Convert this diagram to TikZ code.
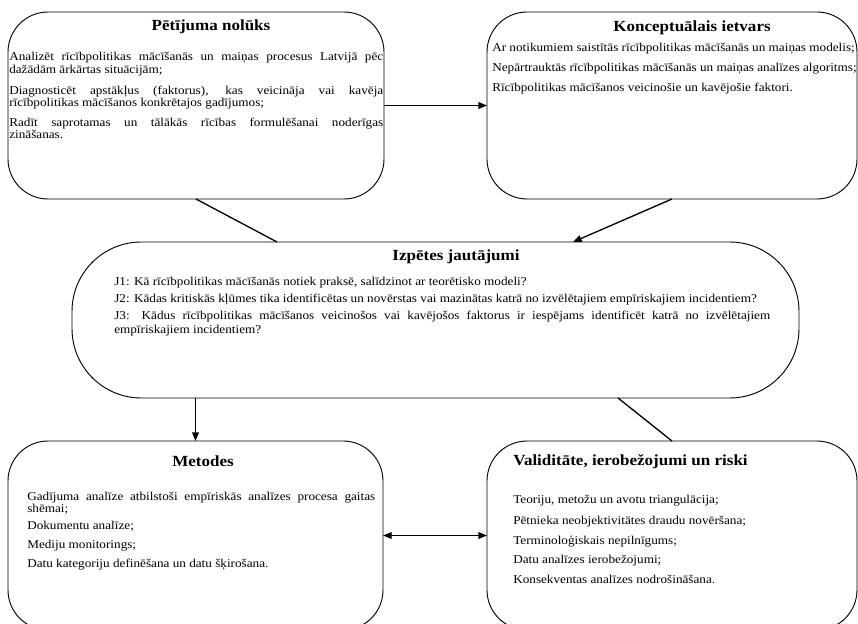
\documentclass[tikz,border=0pt]{standalone}
\usepackage{fontspec}
\setmainfont{Liberation Serif}[FakeStretch=1.1]
\usetikzlibrary{arrows.meta,calc}
\newcommand{\bodyfont}{\fontsize{9}{10}\selectfont}
\newcommand{\titlefont}{\fontsize{11.6}{13}\selectfont\bfseries}
\tikzset{
  box/.style={draw=black, line width=0.7pt, rounded corners=30pt, inner sep=0pt, outer sep=0pt},
  txt/.style={anchor=mid west, inner sep=0pt, font=\bodyfont},
  ttl/.style={anchor=mid, inner sep=0pt, font=\titlefont},
  ttlw/.style={anchor=mid west, inner sep=0pt, font=\titlefont},
  conn/.style={line width=1pt},
  arr/.style={conn, -{Triangle[length=6.5pt,width=5pt]}},
  darr/.style={conn, {Triangle[length=6.5pt,width=5pt]}-{Triangle[length=6.5pt,width=5pt]}}
}
\begin{document}
\begin{tikzpicture}[x=0.75pt,y=-0.75pt]
\useasboundingbox (0,0) rectangle (858,624);
\fill[white] (0,0) rectangle (858,624);

% boxes
\node[box, minimum width=282pt, minimum height=140.25pt] (B1) at (196,105.5) {};
\node[box, minimum width=277.5pt, minimum height=140.25pt] (B2) at (672,105.5) {};
\node[box, rounded corners=52pt, minimum width=545.25pt, minimum height=117pt] (B3) at (435.5,320) {};
\node[box, minimum width=281.25pt, minimum height=141.75pt] (B4) at (195.5,535.5) {};
\node[box, minimum width=277.5pt, minimum height=141.75pt] (B5) at (672,535.5) {};

% box 1
\node[ttl] (T1) at (211,27) {Pētījuma nolūks};
\node[txt] (t1a) at (9,57) {\makebox[280.5pt][s]{Analizēt rīcībpolitikas mācīšanās un maiņas procesus Latvijā pēc}};
\node[txt] (t1b) at (9,70) {dažādām ārkārtas situācijām;};
\node[txt] (t1c) at (9,91) {\makebox[280.5pt][s]{Diagnosticēt apstākļus (faktorus), kas veicināja vai kavēja}};
\node[txt] (t1d) at (9,103) {rīcībpolitikas mācīšanos konkrētajos gadījumos;};
\node[txt] (t1e) at (9,123) {\makebox[280.5pt][s]{Radīt saprotamas un tālākās rīcības formulēšanai noderīgas}};
\node[txt] (t1f) at (9,135) {zināšanas.};

% box 2
\node[ttl] (T2) at (692,28) {Konceptuālais ietvars};
\node[txt] (t2a) at (492,48) {Ar notikumiem saistītās rīcībpolitikas mācīšanās un maiņas modelis;};
\node[txt] (t2b) at (492,68) {Nepārtrauktās rīcībpolitikas mācīšanās un maiņas analīzes algoritms;};
\node[txt] (t2c) at (492,88) {Rīcībpolitikas mācīšanos veicinošie un kavējošie faktori.};

% box 3
\node[ttl] (T3) at (456,257) {Izpētes jautājumi};
\node[txt] (t3a) at (114,282) {J1: Kā rīcībpolitikas mācīšanās notiek praksē, salīdzinot ar teorētisko modeli?};
\node[txt] (t3b) at (114,299) {J2: Kādas kritiskās kļūmes tika identificētas un novērstas vai mazinātas katrā no izvēlētajiem empīriskajiem incidentiem?};
\node[txt] (t3c) at (114,316) {\makebox[492pt][s]{J3: Kādus rīcībpolitikas mācīšanos veicinošos vai kavējošos faktorus ir iespējams identificēt katrā no izvēlētajiem}};
\node[txt] (t3d) at (114,330) {empīriskajiem incidentiem?};

% box 4
\node[ttl] (T4) at (203,463) {Metodes};
\node[txt] (t4a) at (27,497) {\makebox[261pt][s]{Gadījuma analīze atbilstoši empīriskās analīzes procesa gaitas}};
\node[txt] (t4b) at (27,509) {shēmai;};
\node[txt] (t4c) at (27,526) {Dokumentu analīze;};
\node[txt] (t4d) at (27,545) {Mediju monitorings;};
\node[txt] (t4e) at (27,564) {Datu kategoriju definēšana un datu šķirošana.};

% box 5
\node[ttlw] (T5) at (513,462) {Validitāte, ierobežojumi un riski};
\node[txt] (t5a) at (513,500) {Teoriju, metožu un avotu triangulācija;};
\node[txt] (t5b) at (513,521) {Pētnieka neobjektivitātes draudu novēršana;};
\node[txt] (t5c) at (513,541) {Terminoloģiskais nepilnīgums;};
\node[txt] (t5d) at (513,560) {Datu analīzes ierobežojumi;};
\node[txt] (t5e) at (513,580) {Konsekventas analīzes nodrošināšana.};

% connectors
\draw[arr] (B1.east) -- (B2.west);
\draw[conn] (B1.south) -- ($(B3.north)+(-158.5,0)$);
\draw[arr] (B2.south) -- ($(B3.north)+(137.5,0)$);
\draw[arr] (B3.south -| B4.north) -- (B4.north);
\draw[conn] ($(B3.south)+(182.5,0)$) -- (B5.north);
\draw[darr] (B4.east) -- (B5.west);
\end{tikzpicture}
\end{document}
